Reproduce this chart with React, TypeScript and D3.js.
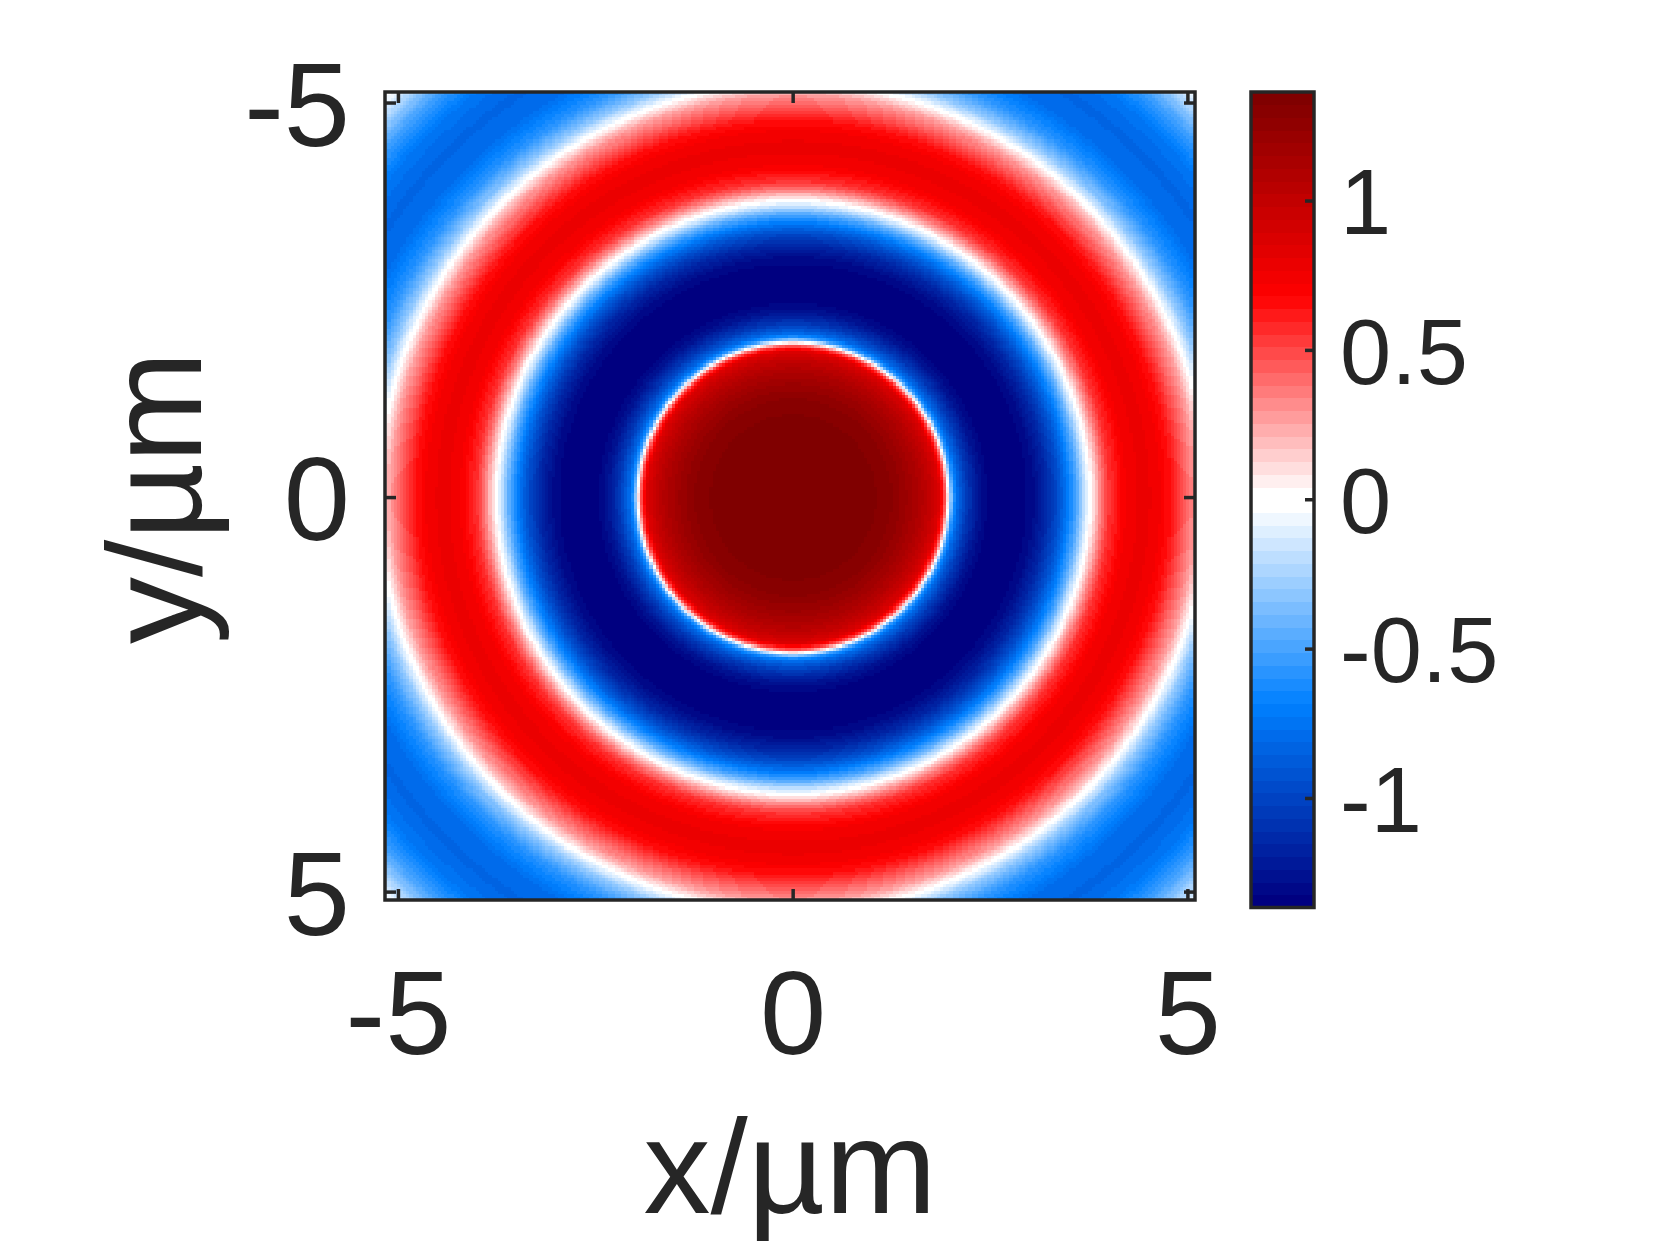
import React, { useMemo } from 'react';
import * as d3 from 'd3';

// Radial profile of the field: radius in µm -> value
const radii = [0, 1.0, 1.2, 1.4, 1.6, 1.75, 1.85, 1.92, 1.97, 2.02, 2.08, 2.2, 2.35, 2.5, 2.9, 3.05, 3.2, 3.35, 3.46, 3.6, 3.7, 3.76, 3.82, 3.9, 4.0, 4.2, 4.4, 4.6, 4.8, 4.95, 5.1, 5.25, 5.4, 5.6, 5.9, 6.2, 6.5, 6.8, 7.0, 7.25, 7.4];
const fieldValues = [1.34, 1.33, 1.3, 1.22, 1.1, 0.98, 0.85, 0.5, 0.0, -0.55, -0.8, -1.05, -1.25, -1.35, -1.35, -1.28, -1.15, -0.95, -0.75, -0.45, -0.15, 0.0, 0.15, 0.35, 0.55, 0.72, 0.78, 0.76, 0.63, 0.45, 0.28, 0.0, -0.3, -0.57, -0.78, -0.82, -0.74, -0.52, -0.3, 0.0, 0.1];

// Grid (cell centres)
const gridCount = 258;
const gridStep = 0.04;
const gridStart = -5.16;

// Axes
const xDomain = [-5.17, 5.09];
const yDomain = [-5.14, 5.1];
const xTicks = [-5, 0, 5];
const yTicks = [-5, 0, 5];
const xTickLabels = ['-5', '0', '5'];
const yTickLabels = ['-5', '0', '5'];

// Colorbar
const colorLimits = [-1.365, 1.365];
const cbTicks = [-1, -0.5, 0, 0.5, 1];
const cbTickLabels = ['-1', '-0.5', '0', '0.5', '1'];
const levelCount = 64;
const blueAnchors = ['#000080', '#0080ff', '#ffffff'];
const redAnchors = ['#ffffff', '#ff0000', '#800000'];

const xLabel = 'x/µm';
const yLabel = 'y/µm';

const FONT = '"Liberation Sans", Arial, Helvetica, sans-serif';
const INK = '#262626';

export default function App() {
  const W = 1661, H = 1246;
  const plot = { left: 385, right: 1195, top: 92, bottom: 900 };
  const cb = { left: 1251, right: 1314, top: 92, bottom: 907.5 };

  const xScale = d3.scaleLinear().domain(xDomain).range([plot.left, plot.right]);
  const yScale = d3.scaleLinear().domain(yDomain).range([plot.top, plot.bottom]);
  const profile = d3.scaleLinear().domain(radii).range(fieldValues).clamp(true);
  const cbScale = d3.scaleLinear().domain(colorLimits).range([cb.bottom, cb.top]);

  const colors = useMemo(() => {
    const half = levelCount / 2;
    const bi = d3.piecewise(d3.interpolateRgb, blueAnchors);
    const ri = d3.piecewise(d3.interpolateRgb, redAnchors);
    const arr: string[] = [];
    for (let k = 0; k < half; k++) arr.push(d3.color(bi(k / (half - 1)))!.formatHex());
    for (let k = 0; k < half; k++) arr.push(d3.color(ri(k / (half - 1)))!.formatHex());
    return arr;
  }, []);

  const levelOf = (v: number) => {
    const f = (v - colorLimits[0]) / (colorLimits[1] - colorLimits[0]);
    return Math.max(0, Math.min(levelCount - 1, Math.floor(f * levelCount)));
  };

  const cells = useMemo(() => {
    const out: { x0: number; x1: number; y0: number; y1: number; c: string }[] = [];
    for (let j = 0; j < gridCount; j++) {
      const yc = gridStart + j * gridStep;
      const levels: number[] = [];
      for (let i = 0; i < gridCount; i++) {
        const xc = gridStart + i * gridStep;
        levels.push(levelOf(profile(Math.hypot(xc, yc))));
      }
      let runStart = 0;
      let runLevel = levels[0];
      for (let i = 1; i <= gridCount; i++) {
        if (i === gridCount || levels[i] !== runLevel) {
          const xa = gridStart + runStart * gridStep - gridStep / 2;
          const xb = gridStart + (i - 1) * gridStep + gridStep / 2;
          out.push({
            x0: xScale(xa), x1: xScale(xb),
            y0: yScale(yc - gridStep / 2), y1: yScale(yc + gridStep / 2),
            c: colors[runLevel],
          });
          if (i < gridCount) { runStart = i; runLevel = levels[i]; }
        }
      }
    }
    return out;
  }, [colors]);

  const cbBands = colors.map((c, k) => {
    const v0 = colorLimits[0] + (k / levelCount) * (colorLimits[1] - colorLimits[0]);
    const v1 = colorLimits[0] + ((k + 1) / levelCount) * (colorLimits[1] - colorLimits[0]);
    return { y0: cbScale(v1), y1: cbScale(v0), c };
  });

  const tickLen = 11;
  const tickFont = 119;
  const cbFont = 92;
  const labelFont = 134;

  return (
    <svg width={W} height={H} style={{ position: 'absolute', left: 0, top: 0, background: '#fff' }} fontFamily={FONT}>
      <defs>
        <clipPath id="plotClip">
          <rect x={plot.left} y={plot.top} width={plot.right - plot.left} height={plot.bottom - plot.top} />
        </clipPath>
      </defs>
      <rect x={0} y={0} width={W} height={H} fill="#fff" />
      <g shapeRendering="crispEdges" clipPath="url(#plotClip)">
        {cells.map((d, i) => (
          <rect key={i} x={d.x0} y={d.y0} width={d.x1 - d.x0 + 0.3} height={d.y1 - d.y0 + 0.3} fill={d.c} />
        ))}
      </g>
      {/* axes box and ticks */}
      <g stroke={INK} strokeWidth={3.5} fill="none">
        <rect x={plot.left} y={plot.top} width={plot.right - plot.left} height={plot.bottom - plot.top} />
        {xTicks.map((t) => (
          <g key={'xt' + t}>
            <line x1={xScale(t)} x2={xScale(t)} y1={plot.bottom} y2={plot.bottom - tickLen} />
            <line x1={xScale(t)} x2={xScale(t)} y1={plot.top} y2={plot.top + tickLen} />
          </g>
        ))}
        {yTicks.map((t) => (
          <g key={'yt' + t}>
            <line x1={plot.left} x2={plot.left + tickLen} y1={yScale(t)} y2={yScale(t)} />
            <line x1={plot.right} x2={plot.right - tickLen} y1={yScale(t)} y2={yScale(t)} />
          </g>
        ))}
      </g>
      <g fill={INK} fontSize={tickFont}>
        {xTicks.map((t, i) => (
          <text key={'xl' + t} x={xScale(t)} y={1054} textAnchor="middle">{xTickLabels[i]}</text>
        ))}
        {yTicks.map((t, i) => (
          <text key={'yl' + t} x={350} y={yScale(t) + 0.36 * tickFont} textAnchor="end">{yTickLabels[i]}</text>
        ))}
      </g>
      <text x={(plot.left + plot.right) / 2} y={1213} textAnchor="middle" fontSize={labelFont} fill={INK}>{xLabel}</text>
      <text transform={`translate(201,${yScale(0)}) rotate(-90)`} textAnchor="middle" fontSize={labelFont} fill={INK}>{yLabel}</text>
      {/* colorbar */}
      <g shapeRendering="crispEdges">
        {cbBands.map((b, k) => (
          <rect key={'cb' + k} x={cb.left} y={b.y0} width={cb.right - cb.left} height={b.y1 - b.y0 + 0.5} fill={b.c} />
        ))}
      </g>
      <g stroke={INK} strokeWidth={3.5} fill="none">
        <rect x={cb.left} y={cb.top} width={cb.right - cb.left} height={cb.bottom - cb.top} />
        {cbTicks.map((t) => (
          <line key={'cbt' + t} x1={cb.right} x2={cb.right - 9} y1={cbScale(t)} y2={cbScale(t)} />
        ))}
      </g>
      <g fill={INK} fontSize={cbFont}>
        {cbTicks.map((t, i) => (
          <text key={'cbl' + t} x={1340} y={cbScale(t) + 0.36 * cbFont}>{cbTickLabels[i]}</text>
        ))}
      </g>
    </svg>
  );
}
